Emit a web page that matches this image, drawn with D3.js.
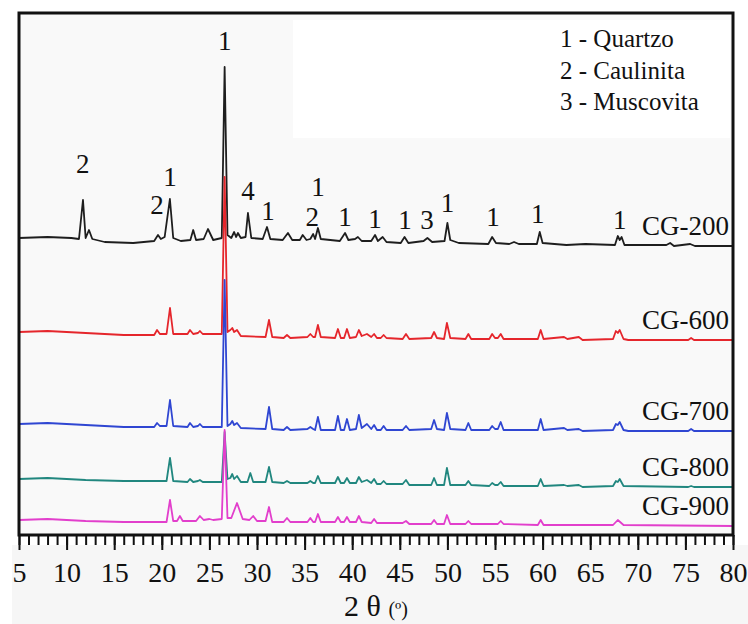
<!DOCTYPE html>
<meta charset="utf-8">
<title>DRX CG</title>
<style>
  body { margin: 0; background: #fff; }
  svg { display: block; }
  .line { fill: none; stroke-width: 1.8; stroke-linejoin: round; }
  .axis path.domain { display: none; }
  .axis line { stroke: #111; stroke-width: 2; }
</style>
<body>
<script src="https://cdn.jsdelivr.net/npm/d3@7"></script>
<script>
// [2theta, intensity (a.u., stacked)]
var cg200 = [[5,297],[8,298],[10.5,297],[11.3,296],[11.72,335],[12,297],[12.35,305],[12.7,296],[14,293],[17,292],
  [19.2,294],[19.6,300],[19.9,296],[20.3,298],[20.85,336],[21.2,297],[22,294],[23,295],[23.3,305],[23.6,295],
  [24.4,296],[24.85,306],[25.4,295],[26.3,297],[26.6,468],[26.9,300],[27.3,297],[27.6,303],[27.8,298],[28,302],
  [28.3,297],[28.8,298],[29.05,322],[29.4,297],[30.6,296],[31.05,308],[31.4,296],[32.7,295],[33.25,302],[33.7,295],
  [34.5,295],[34.8,300],[35.2,295],[35.6,296],[35.9,301],[36.1,296],[36.4,307],[36.7,296],[38.7,294],[39.25,302],
  [39.6,295],[40.3,296],[40.6,298],[41,294],[42,294],[42.4,300],[42.7,294],[43.2,298],[43.6,293],[45.1,292],
  [45.5,298],[45.9,292],[47.5,294],[47.9,297],[48.4,293],[49.7,294],[50,312],[50.3,295],[51.2,292],[54.3,291],
  [54.7,298],[55.1,292],[56.5,291],[57,293],[57.5,291],[59.4,291],[59.7,303],[60,292],[62.5,290],[64.5,291],
  [67.6,290],[67.9,299],[68.1,295],[68.3,298],[68.6,290],[73,290],[73.4,292],[73.8,289],[75.5,291],[76,289],[80,289]];

var cg600 = [[5,203],[8,204],[12,202],[16,200],[19.2,200],[19.5,205],[19.8,201],[20.5,201],[20.86,227],[21.2,201],
  [22.7,201],[22.96,205],[23.3,201],[23.8,202],[24,204],[24.3,201],[26.3,201],[26.6,358],[26.9,203],[27.2,205],
  [27.4,207],[27.6,203],[27.9,205],[28.3,199],[30.9,198],[31.26,215],[31.6,198],[32.8,197],[33.15,200],[33.5,197],
  [35.3,198],[35.6,201],[35.9,198],[36.1,198],[36.4,210],[36.7,198],[38.2,197],[38.5,206],[38.8,197],[39.15,197],
  [39.45,206],[39.75,197],[40.4,198],[40.7,205],[41,199],[41.55,201],[42,198],[42.3,201],[42.6,197],[43,197],
  [43.3,200],[43.6,197],[45.3,196],[45.65,201],[46,196],[48.3,197],[48.6,203],[48.9,197],[49.65,196],[49.95,212],
  [50.3,197],[51.9,196],[52.2,201],[52.5,196],[54.4,196],[54.7,201],[55,197],[55.3,197],[55.6,201],[55.9,196],
  [59.5,196],[59.8,205],[60.1,196],[62.25,198],[62.6,196],[63.8,198],[64.2,195],[67.4,196],[67.7,204],[67.9,202],
  [68.1,205],[68.5,196],[69,195],[75.3,195],[75.6,197],[75.9,195],[80,195]];

var cg700 = [[5,111],[8,112],[12,110],[16,108],[19.2,108],[19.5,112],[19.8,109],[20.5,109],[20.86,135],[21.2,109],
  [22.7,108],[22.96,112],[23.3,108],[23.8,109],[24,111],[24.3,108],[26.3,108],[26.6,255],[26.9,109],[27.2,111],
  [27.4,114],[27.6,110],[27.9,112],[28.3,107],[30.9,106],[31.26,128],[31.6,106],[32.8,105],[33.15,108],[33.5,105],
  [35.3,106],[35.6,108],[35.9,106],[36.1,105],[36.4,118],[36.7,105],[38.2,105],[38.5,119],[38.8,105],[39.15,105],
  [39.45,116],[39.75,105],[40.4,106],[40.7,120],[41,107],[41.55,111],[42,106],[42.3,110],[42.6,105],[43,105],
  [43.3,109],[43.6,105],[45.3,105],[45.65,109],[46,105],[48.3,106],[48.6,115],[48.9,106],[49.65,105],[49.95,122],
  [50.3,106],[51.9,105],[52.2,112],[52.5,105],[54.4,105],[54.7,109],[55,106],[55.3,106],[55.6,113],[55.9,105],
  [59.5,105],[59.8,116],[60.1,105],[62.25,107],[62.6,105],[63.8,106],[64.2,104],[67.4,105],[67.7,111],[67.9,110],
  [68.1,113],[68.5,105],[69,104],[75.3,104],[75.6,106],[75.9,104],[80,104]];

var cg800 = [[5,56],[8,57],[12,55],[16,54],[20.5,54],[20.86,77],[21.2,54],[22.7,53],[22.96,56],[23.3,53],
  [23.8,54],[24,55],[24.3,53],[26.3,53],[26.6,103],[26.9,56],[27.2,57],[27.4,61],[27.6,56],[27.9,59],
  [28.3,53],[29,53],[29.3,62],[29.6,53],[30.9,53],[31.26,68],[31.6,53],[32.8,52],[33.15,54],[33.5,52],
  [35.3,52],[35.6,54],[35.9,52],[36.1,52],[36.4,59],[36.7,52],[38.2,52],[38.5,58],[38.8,52],[39.15,52],
  [39.45,57],[39.75,52],[40.4,52],[40.7,58],[41,53],[41.55,55],[42,52],[42.3,56],[42.6,51],[43,51],
  [43.3,54],[43.6,51],[45.3,51],[45.65,55],[46,50],[48.3,50],[48.6,57],[48.9,50],[49.65,50],[49.95,67],
  [50.3,50],[51.9,50],[52.2,54],[52.5,50],[54.4,49],[54.7,52],[55,50],[55.3,50],[55.6,53],[55.9,49],
  [59.5,49],[59.8,56],[60.1,49],[62.25,50],[62.6,49],[63.8,50],[64.2,48],[67.4,49],[67.7,54],[67.9,53],
  [68.1,56],[68.5,49],[75.3,48],[75.6,49],[75.9,48],[80,48]];

var cg900 = [[5,15],[8,16],[12,14],[16,13],[20.5,13],[20.86,35],[21.2,14],[21.6,14],[21.9,19],[22.2,14],
  [23.6,14],[24,19],[24.4,15],[25,16],[25.4,15],[26.3,16],[26.6,105],[26.9,17],[27.3,17],[27.9,32],
  [28.5,16],[29.2,15],[29.6,19],[30,14],[30.9,14],[31.26,28],[31.6,13],[32.8,13],[33.15,17],[33.5,13],
  [35.3,13],[35.6,17],[35.9,13],[36.1,13],[36.4,21],[36.7,13],[38.2,13],[38.5,18],[38.8,13],[39.15,13],
  [39.45,18],[39.75,13],[40.4,13],[40.7,19],[41,13],[42,12],[42.3,16],[42.6,12],[45.3,12],[45.65,14],
  [46,11],[48.3,11],[48.6,15],[48.9,11],[49.65,11],[49.95,20],[50.3,11],[51.9,11],[52.2,14],[52.5,11],
  [55.3,11],[55.6,14],[55.9,11],[59.5,10],[59.8,15],[60.1,10],[67.4,10],[67.9,15],[68.5,10],[80,9]];

var sampleNames = ["CG-200", "CG-600", "CG-700", "CG-800", "CG-900"];
var sampleData = [cg200, cg600, cg700, cg800, cg900];
var sampleColors = ["#1e1e1e", "#e5262c", "#2f46d2", "#21877f", "#e23fcc"];

// phase marks on CG-200: [2theta, intensity, phase]
var peakMarks = [[11.7,362,"2"],[19.5,321,"2"],[20.85,349,"1"],[26.6,485,"1"],[29.05,335,"4"],[31.15,315,"1"],
  [35.8,309,"2"],[36.4,339,"1"],[39.25,309,"1"],[42.4,307,"1"],[45.55,306,"1"],[47.85,306,"3"],
  [50.0,323,"1"],[54.8,309,"1"],[59.5,312,"1"],[68.1,306,"1"]];

var legendItems = ["1 - Quartzo", "2 - Caulinita", "3 - Muscovita"];
var majorTicks = d3.range(5, 81, 5);
var minorTicks = d3.range(5, 81, 1);

var serif = "Liberation Serif";
var W = 748, H = 624;
var margin = {top: 13, right: 15, bottom: 89, left: 19},
    width = W - margin.left - margin.right,
    height = H - margin.top - margin.bottom;

var x = d3.scaleLinear().domain([5, 80]).range([0, width]);
var y = d3.scaleLinear().domain([0, 522]).range([height, 0]);

var svg = d3.select("body").append("svg")
    .attr("width", W)
    .attr("height", H)
    .attr("font-family", serif);

svg.append("rect").attr("x", 12).attr("y", 545).attr("width", W - 12).attr("height", H - 545).attr("fill", "#f6f6f6");

var g = svg.append("g")
    .attr("transform", "translate(" + margin.left + "," + margin.top + ")");

g.append("rect").attr("width", width).attr("height", height).attr("fill", "#f9f9f9");
g.append("rect")
    .attr("x", 274).attr("y", 7)
    .attr("width", width - 277).attr("height", 118)
    .attr("fill", "#ffffff");

var line = d3.line()
    .x(function(d) { return x(d[0]); })
    .y(function(d) { return y(d[1]); });

g.selectAll("path.line")
    .data(sampleData)
  .enter().append("path")
    .attr("class", "line")
    .attr("stroke", function(d, i) { return sampleColors[i]; })
    .attr("d", line);

g.selectAll("text.sample")
    .data(sampleData)
  .enter().append("text")
    .attr("class", "sample")
    .attr("x", width - 4)
    .attr("y", function(d) { return y(d[d.length - 1][1]) - 11; })
    .attr("text-anchor", "end")
    .attr("font-family", serif)
    .attr("font-size", 27)
    .attr("fill", "#111")
    .text(function(d, i) { return sampleNames[i]; });

g.selectAll("text.peak")
    .data(peakMarks)
  .enter().append("text")
    .attr("class", "peak")
    .attr("x", function(d) { return x(d[0]); })
    .attr("y", function(d) { return y(d[1]); })
    .attr("text-anchor", "middle")
    .attr("font-family", serif)
    .attr("font-size", 27)
    .attr("fill", "#111")
    .text(function(d) { return d[2]; });

g.selectAll("text.legend")
    .data(legendItems)
  .enter().append("text")
    .attr("class", "legend")
    .attr("x", 541)
    .attr("y", function(d, i) { return 34 + i * 31.5; })
    .attr("font-family", serif)
    .attr("font-size", 25)
    .attr("fill", "#111")
    .text(function(d) { return d; });

// axes: 1-degree minor ticks, 5-degree labelled ticks
g.append("g")
    .attr("class", "axis")
    .attr("transform", "translate(0," + height + ")")
    .call(d3.axisBottom(x).tickValues(minorTicks).tickSize(10).tickFormat(""));

var xAxis = g.append("g")
    .attr("class", "axis")
    .attr("transform", "translate(0," + height + ")")
    .call(d3.axisBottom(x).tickValues(majorTicks).tickSize(15));
xAxis.attr("font-family", serif).attr("font-size", 28);
xAxis.selectAll("text").attr("y", 47).attr("dy", 0).attr("fill", "#111");

g.append("rect")
    .attr("width", width).attr("height", height)
    .attr("fill", "none").attr("stroke", "#111").attr("stroke-width", 3);

var xl = svg.append("text")
    .attr("x", margin.left + width / 2)
    .attr("y", 616)
    .attr("text-anchor", "middle")
    .attr("font-family", serif)
    .attr("fill", "#111")
    .attr("font-size", 30);
xl.append("tspan").text("2 θ ");
xl.append("tspan").attr("font-size", 20).text("(º)");
</script>
</body>
